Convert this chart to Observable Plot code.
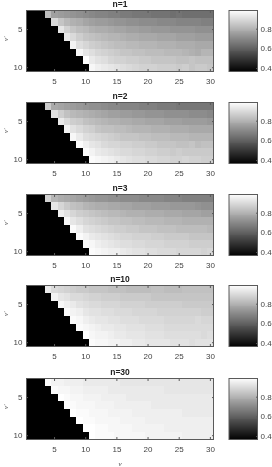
<!DOCTYPE html>
<html><head><meta charset="utf-8">
<script src="https://cdn.jsdelivr.net/npm/d3@7"></script>
<script src="https://cdn.jsdelivr.net/npm/@observablehq/plot@0.6"></script>
<style>html,body{margin:0;padding:0;background:#fff;width:272px;height:467px;overflow:hidden}
#c{position:relative;width:272px;height:467px;filter:blur(0.4px)}#c svg{position:absolute;overflow:visible;background:transparent}</style>
</head><body><div id="c"></div>
<script>
const nuPrime = [3,4,5,6,7,8,9,10];
const xTicks = [5,10,15,20,25,30];
const yTicks = [5,10];
const barTicks = [0.4,0.6,0.8];
const colorDomain = [0.37,0.99];
const panelTops = [10,102,194,285,378];
const titles = ["n=1","n=2","n=3","n=10","n=30"];
// each row starts at nu = nu' + 1; cells with nu <= nu' are black
const n1 = [
[.83,.76,.75,.74,.73,.72,.71,.70,.69,.69,.68,.68,.67,.67,.66,.66,.66,.65,.65,.65,.64,.65,.64,.64,.64,.64,.64],
[.90,.85,.82,.80,.79,.77,.76,.75,.75,.74,.73,.73,.72,.72,.71,.71,.71,.70,.70,.70,.69,.69,.69,.69,.68,.68],
[.93,.88,.85,.83,.82,.80,.79,.79,.78,.77,.77,.76,.76,.75,.75,.74,.74,.74,.73,.73,.73,.73,.72,.72,.72],
[.94,.90,.87,.85,.84,.83,.82,.81,.81,.80,.79,.79,.78,.78,.78,.77,.77,.77,.76,.76,.76,.75,.75,.75],
[.96,.91,.89,.87,.86,.85,.84,.83,.83,.82,.82,.81,.81,.81,.80,.80,.80,.79,.79,.79,.78,.78,.78],
[.97,.93,.91,.89,.88,.87,.86,.85,.85,.84,.84,.83,.83,.83,.82,.82,.82,.81,.80,.79,.81,.81],
[.99,.94,.92,.91,.89,.88,.88,.87,.87,.86,.86,.85,.85,.85,.85,.84,.84,.85,.84,.84,.84],
[.97,.95,.94,.93,.92,.91,.90,.89,.88,.88,.88,.87,.87,.87,.86,.87,.85,.86,.86,.85]];
const n2 = [
[.86,.78,.77,.76,.75,.74,.73,.72,.72,.71,.70,.70,.69,.69,.69,.68,.68,.68,.67,.67,.67,.66,.66,.66,.66,.66,.66],
[.92,.87,.84,.82,.81,.80,.79,.78,.77,.76,.76,.75,.75,.74,.74,.73,.73,.73,.72,.72,.72,.72,.71,.71,.71,.70],
[.94,.90,.87,.86,.84,.83,.82,.81,.80,.80,.79,.79,.78,.78,.77,.77,.77,.76,.76,.76,.75,.75,.75,.75,.74],
[.96,.92,.90,.88,.87,.85,.84,.84,.83,.83,.82,.81,.81,.81,.80,.80,.80,.79,.79,.79,.78,.78,.78,.78],
[.97,.94,.91,.90,.89,.88,.87,.86,.85,.85,.85,.84,.84,.83,.83,.83,.82,.82,.82,.81,.81,.81,.81],
[.98,.95,.93,.92,.90,.89,.89,.88,.88,.87,.87,.86,.86,.85,.85,.85,.84,.84,.85,.83,.84,.84],
[.98,.96,.94,.93,.92,.91,.90,.90,.89,.89,.88,.88,.87,.87,.86,.87,.86,.86,.86,.86,.86],
[.98,.97,.96,.95,.94,.93,.92,.91,.91,.90,.90,.89,.89,.88,.88,.89,.88,.88,.87,.87]];
const n3 = [
[.88,.81,.79,.78,.77,.76,.75,.74,.73,.73,.72,.72,.71,.71,.71,.70,.70,.70,.70,.69,.69,.69,.68,.68,.68,.68,.68],
[.93,.89,.86,.84,.83,.81,.80,.79,.79,.78,.78,.77,.77,.76,.76,.76,.75,.75,.75,.74,.74,.74,.74,.73,.72,.72],
[.95,.92,.89,.87,.86,.85,.84,.83,.82,.82,.81,.80,.80,.80,.79,.79,.79,.78,.78,.78,.77,.77,.77,.76,.76],
[.97,.93,.91,.89,.88,.87,.86,.85,.85,.84,.84,.83,.83,.82,.82,.82,.81,.81,.81,.80,.80,.80,.80,.80],
[.98,.95,.92,.91,.90,.89,.88,.87,.87,.86,.86,.85,.85,.85,.84,.84,.84,.83,.83,.83,.83,.83,.82],
[.98,.96,.94,.93,.92,.91,.90,.89,.89,.88,.88,.88,.87,.87,.86,.86,.86,.86,.85,.85,.85,.85],
[.98,.97,.95,.94,.93,.92,.91,.91,.90,.90,.89,.89,.89,.88,.88,.88,.88,.87,.87,.87,.87],
[.98,.97,.96,.95,.95,.94,.93,.92,.92,.91,.91,.90,.90,.90,.89,.89,.89,.89,.88,.89]];
const n10 = [
[.94,.90,.89,.88,.87,.86,.86,.85,.85,.85,.84,.84,.84,.83,.83,.83,.83,.84,.84,.83,.83,.83,.84,.84,.84,.84,.84],
[.96,.93,.92,.90,.90,.89,.88,.88,.87,.87,.87,.86,.86,.86,.86,.86,.85,.85,.85,.85,.85,.85,.85,.85,.85,.85],
[.97,.95,.94,.92,.91,.90,.90,.89,.89,.89,.88,.88,.88,.88,.87,.87,.87,.87,.87,.87,.86,.86,.86,.86,.86],
[.98,.96,.95,.93,.92,.92,.91,.91,.90,.90,.90,.89,.89,.89,.89,.88,.88,.88,.88,.88,.88,.88,.87,.87],
[.98,.97,.95,.94,.93,.93,.92,.92,.91,.91,.91,.90,.90,.90,.90,.89,.89,.89,.89,.89,.90,.89,.89],
[.98,.97,.96,.95,.94,.94,.93,.93,.92,.92,.92,.91,.91,.91,.90,.90,.90,.90,.90,.90,.90,.90],
[.99,.97,.96,.96,.95,.94,.94,.93,.93,.93,.92,.92,.92,.91,.91,.91,.91,.91,.91,.90,.91],
[.98,.97,.97,.96,.96,.95,.95,.94,.94,.93,.93,.93,.93,.92,.92,.92,.91,.92,.92,.92]];
const n30 = [
[.98,.96,.96,.95,.95,.95,.94,.94,.94,.94,.94,.94,.93,.93,.93,.93,.93,.93,.93,.93,.93,.93,.93,.93,.93,.93,.93],
[.98,.97,.97,.96,.96,.95,.95,.95,.95,.94,.94,.94,.94,.94,.94,.94,.94,.94,.93,.93,.93,.93,.93,.93,.93,.93],
[.99,.98,.97,.97,.96,.96,.96,.95,.95,.95,.95,.94,.94,.94,.94,.94,.94,.94,.94,.94,.94,.94,.94,.94,.94],
[.99,.98,.97,.97,.97,.96,.96,.96,.95,.95,.95,.95,.95,.95,.94,.94,.94,.94,.94,.94,.94,.94,.94,.94],
[.99,.98,.98,.97,.97,.97,.96,.96,.96,.96,.95,.95,.95,.95,.95,.95,.95,.95,.94,.94,.94,.94,.94],
[.99,.98,.98,.97,.97,.97,.97,.96,.96,.96,.96,.95,.95,.95,.95,.95,.95,.95,.95,.95,.95,.95],
[.99,.99,.98,.98,.97,.97,.97,.97,.96,.96,.96,.96,.96,.95,.95,.95,.95,.95,.95,.95,.95],
[.99,.98,.98,.98,.97,.97,.97,.97,.97,.96,.96,.96,.96,.96,.96,.95,.95,.95,.95,.95]];
const panels = [n1,n2,n3,n10,n30];

const ink = "#444", frame = "#5a5a5a", font = "Liberation Sans, Arial, sans-serif";
const root = document.getElementById("c");
const PH = 61, MT = 10;
function cells(rows){
  const out=[];
  rows.forEach((vals,r)=>{const y=nuPrime[r];
    for(let x=1;x<=30;x++) out.push({x,y,v:x<=y?colorDomain[0]:vals[x-y-1]});
  });
  return out;
}
panels.forEach((rows,i)=>{
  const last=i===panels.length-1;
  const MB = last?29:16;
  const p=Plot.plot({width:225,height:MT+PH+MB,marginLeft:26,marginRight:12,marginTop:MT,marginBottom:MB,
    style:{fontFamily:font,fontSize:"8px",color:ink,background:"transparent"},
    x:{domain:[.5,30.5],label:null},
    y:{domain:[2.5,10.5],reverse:true,label:null},
    color:{type:"linear",domain:colorDomain,range:["#000","#fff"],clamp:true},
    marks:[
      Plot.raster(cells(rows),{x:"x",y:"y",fill:"v",x1:.5,x2:30.5,y1:2.5,y2:10.5,width:30,height:8,imageRendering:"pixelated"}),
      Plot.axisX(xTicks,{anchor:"bottom",tickSize:-2,tickPadding:9,stroke:frame,fill:ink,label:null,tickFormat:d=>d}),
      Plot.axisX(xTicks,{anchor:"top",tickSize:-2,stroke:frame,text:null,label:null}),
      Plot.axisY(yTicks,{anchor:"left",tickSize:-2,tickPadding:6,stroke:frame,fill:ink,label:null,tickFormat:d=>d}),
      Plot.axisY(yTicks,{anchor:"right",tickSize:-2,stroke:frame,text:null,label:null}),
      Plot.frame({stroke:frame,strokeWidth:1}),
      Plot.text([titles[i]],{frameAnchor:"top",lineAnchor:"middle",dy:-6,fontWeight:"bold",fontSize:8.5,fill:"#222"}),
      Plot.text(["\u03bd\u2032"],{frameAnchor:"left",dx:-21,rotate:-90,fontFamily:"Liberation Serif, serif",fontStyle:"italic",fontSize:7,fill:ink}),
      ...(last?[Plot.text(["\u03bd"],{frameAnchor:"bottom",dy:26,fontFamily:"Liberation Serif, serif",fontStyle:"italic",fontSize:7,fill:ink})]:[])
    ]});
  p.style.left="0px"; p.style.top=(panelTops[i]-MT)+"px";
  root.appendChild(p);
  const b=Plot.plot({width:57,height:MT+PH+4,marginLeft:13.5,marginRight:15,marginTop:MT,marginBottom:4,
    style:{fontFamily:font,fontSize:"8px",color:ink,background:"transparent"},
    x:{domain:[0,1],axis:null},
    y:{domain:colorDomain,label:null},
    color:{type:"linear",domain:colorDomain,range:["#000","#fff"]},
    marks:[
      Plot.raster({fill:(x,y)=>y,x1:0,x2:1,y1:colorDomain[0],y2:colorDomain[1],width:1,height:64,imageRendering:"pixelated"}),
      Plot.axisY(barTicks,{anchor:"right",tickSize:-2,tickPadding:5,stroke:frame,fill:ink,label:null,tickFormat:d=>d.toFixed(1)}),
      Plot.frame({stroke:frame})
    ]});
  b.style.left="215px"; b.style.top=(panelTops[i]-MT)+"px";
  root.appendChild(b);
});
</script></body></html>
